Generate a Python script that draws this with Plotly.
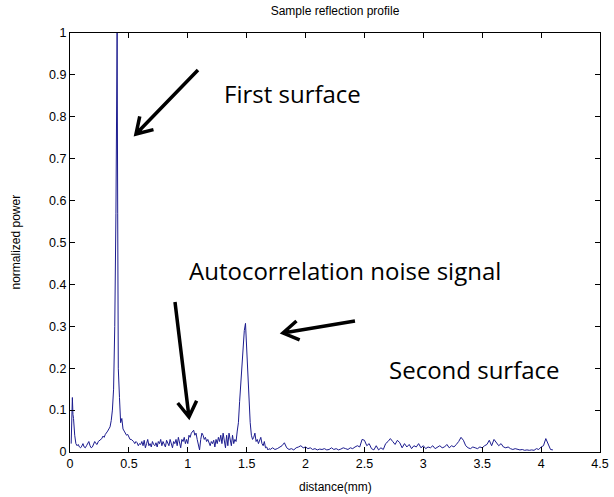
import math
import plotly.graph_objects as go

# Reflection profile: distance (mm) vs normalized power
distance_mm = [
    0.01, 0.02, 0.025, 0.03, 0.04, 0.05, 0.06, 0.07, 0.08, 0.09,
    0.10, 0.11, 0.12, 0.13, 0.14, 0.15, 0.16, 0.17, 0.18, 0.19,
    0.20, 0.21, 0.22, 0.23, 0.24, 0.25, 0.26, 0.27, 0.28, 0.29,
    0.30, 0.31, 0.32, 0.33, 0.34, 0.35, 0.36, 0.37, 0.38, 0.39,
    0.395, 0.40, 0.405, 0.41, 0.42, 0.43, 0.44, 0.45, 0.46, 0.47,
    0.48, 0.49, 0.50, 0.51, 0.52, 0.53, 0.54, 0.55, 0.56, 0.57,
    0.58, 0.59, 0.60, 0.61, 0.62, 0.63, 0.64, 0.65, 0.66, 0.67,
    0.68, 0.69, 0.70, 0.71, 0.72, 0.73, 0.74, 0.75, 0.76, 0.77,
    0.78, 0.79, 0.80, 0.81, 0.82, 0.83, 0.84, 0.85, 0.86, 0.87,
    0.88, 0.89, 0.90, 0.91, 0.92, 0.93, 0.94, 0.95, 0.96, 0.97,
    0.98, 0.99, 1.00, 1.01, 1.02, 1.03, 1.04, 1.05, 1.06, 1.07,
    1.08, 1.09, 1.10, 1.11, 1.12, 1.13, 1.14, 1.15, 1.16, 1.17,
    1.18, 1.19, 1.20, 1.21, 1.22, 1.23, 1.24, 1.25, 1.26, 1.27,
    1.28, 1.29, 1.30, 1.31, 1.32, 1.33, 1.34, 1.35, 1.36, 1.37,
    1.38, 1.39, 1.40, 1.41, 1.42, 1.43, 1.44, 1.45, 1.46, 1.47,
    1.48, 1.49, 1.50, 1.51, 1.52, 1.53, 1.54, 1.55, 1.56, 1.57,
    1.58, 1.59, 1.60, 1.61, 1.62, 1.63, 1.64, 1.65, 1.66, 1.67,
    1.68, 1.69, 1.70, 1.72, 1.74, 1.76, 1.78, 1.80, 1.82, 1.84,
    1.86, 1.88, 1.90, 1.92, 1.94, 1.96, 1.98, 2.00, 2.02, 2.04,
    2.06, 2.08, 2.10, 2.12, 2.14, 2.16, 2.18, 2.20, 2.22, 2.24,
    2.26, 2.28, 2.30, 2.32, 2.34, 2.36, 2.38, 2.40, 2.42, 2.44,
    2.46, 2.48, 2.50, 2.52, 2.54, 2.56, 2.58, 2.60, 2.62, 2.64,
    2.66, 2.68, 2.70, 2.72, 2.74, 2.76, 2.78, 2.80, 2.82, 2.84,
    2.86, 2.88, 2.90, 2.92, 2.94, 2.96, 2.98, 3.00, 3.02, 3.04,
    3.06, 3.08, 3.10, 3.12, 3.14, 3.16, 3.18, 3.20, 3.22, 3.24,
    3.26, 3.28, 3.30, 3.32, 3.34, 3.36, 3.38, 3.40, 3.42, 3.44,
    3.46, 3.48, 3.50, 3.52, 3.54, 3.56, 3.58, 3.60, 3.62, 3.64,
    3.66, 3.68, 3.70, 3.72, 3.74, 3.76, 3.78, 3.80, 3.82, 3.84,
    3.86, 3.88, 3.90, 3.92, 3.94, 3.96, 3.98, 4.00, 4.02, 4.04,
    4.06, 4.08, 4.10,
]

normalized_power = [
    0.02, 0.13, 0.09, 0.08, 0.04, 0.02, 0.015, 0.018, 0.012, 0.01,
    0.014, 0.02, 0.012, 0.01, 0.015, 0.022, 0.025, 0.015, 0.01, 0.012,
    0.02, 0.025, 0.02, 0.018, 0.025, 0.028, 0.03, 0.032, 0.038, 0.035,
    0.042, 0.045, 0.05, 0.055, 0.06, 0.075, 0.10, 0.15, 0.30, 0.57,
    0.92, 1.0, 0.57, 0.20, 0.13, 0.07, 0.08, 0.055, 0.05, 0.045,
    0.04, 0.042, 0.035, 0.03, 0.03, 0.028, 0.025, 0.02, 0.025, 0.022,
    0.015, 0.02, 0.018, 0.025, 0.015, 0.028, 0.01, 0.02, 0.03, 0.015,
    0.02, 0.012, 0.025, 0.018, 0.015, 0.022, 0.012, 0.025, 0.02, 0.03,
    0.015, 0.025, 0.02, 0.012, 0.028, 0.02, 0.015, 0.03, 0.022, 0.01,
    0.025, 0.02, 0.03, 0.015, 0.035, 0.02, 0.01, 0.03, 0.025, 0.035,
    0.02, 0.03, 0.02, 0.04, 0.035, 0.045, 0.048, 0.052, 0.04, 0.045,
    0.03, 0.02, 0.005, 0.03, 0.045, 0.04, 0.03, 0.035, 0.025, 0.03,
    0.02, 0.015, 0.025, 0.02, 0.028, 0.012, 0.03, 0.02, 0.035, 0.025,
    0.04, 0.02, 0.045, 0.03, 0.01, 0.04, 0.015, 0.045, 0.03, 0.015,
    0.04, 0.02, 0.03, 0.025, 0.05, 0.07, 0.12, 0.17, 0.22, 0.26,
    0.29, 0.307, 0.25, 0.17, 0.12, 0.07, 0.04, 0.03, 0.035, 0.045,
    0.025, 0.03, 0.02, 0.03, 0.035, 0.02, 0.015, 0.025, 0.01, 0.012,
    0.005, 0.008, 0.006, 0.01, 0.006, 0.008, 0.012, 0.015, 0.022, 0.01,
    0.006, 0.008, 0.005, 0.01, 0.012, 0.015, 0.01, 0.012, 0.008, 0.01,
    0.006, 0.008, 0.005, 0.007, 0.006, 0.008, 0.005, 0.006, 0.01, 0.006,
    0.008, 0.005, 0.007, 0.01, 0.008, 0.006, 0.01, 0.008, 0.012, 0.015,
    0.012, 0.03, 0.028, 0.015, 0.02, 0.008, 0.005, 0.015, 0.005, 0.01,
    0.006, 0.02, 0.025, 0.032, 0.025, 0.018, 0.028, 0.022, 0.01, 0.02,
    0.012, 0.018, 0.008, 0.015, 0.012, 0.02, 0.01, 0.015, 0.008, 0.012,
    0.01, 0.015, 0.008, 0.012, 0.015, 0.01, 0.012, 0.018, 0.01, 0.015,
    0.012, 0.018, 0.025, 0.035, 0.028, 0.015, 0.01, 0.008, 0.012, 0.01,
    0.008, 0.012, 0.01, 0.015, 0.018, 0.028, 0.015, 0.03, 0.022, 0.015,
    0.02, 0.012, 0.01, 0.012, 0.008, 0.006, 0.008, 0.006, 0.005, 0.006,
    0.004, 0.005, 0.004, 0.005, 0.004, 0.008, 0.006, 0.012, 0.015, 0.032,
    0.02, 0.006, 0.005,
]

x_ticks = [0, 0.5, 1, 1.5, 2, 2.5, 3, 3.5, 4, 4.5]
y_ticks = [0, 0.1, 0.2, 0.3, 0.4, 0.5, 0.6, 0.7, 0.8, 0.9, 1]

W, H = 614, 497
ML, MR, MT, MB = 70, 14, 33, 45
PW, PH = W - ML - MR, H - MT - MB


def to_paper(px, py):
    return (px - ML) / PW, (H - MB - py) / PH


def arrow_path(tail, tip, head_len=18, spread=32):
    """Straight arrow with an open V head, in paper units."""
    dx, dy = tail[0] - tip[0], tail[1] - tip[1]
    ang = math.atan2(dy, dx)
    pts = []
    for s in (-1, 1):
        a = ang + s * math.radians(spread)
        pts.append((tip[0] + head_len * math.cos(a), tip[1] + head_len * math.sin(a)))
    t0 = to_paper(*tail)
    t1 = to_paper(*tip)
    h1 = to_paper(*pts[0])
    h2 = to_paper(*pts[1])
    return (f"M {t0[0]:.4f} {t0[1]:.4f} L {t1[0]:.4f} {t1[1]:.4f} "
            f"M {h1[0]:.4f} {h1[1]:.4f} L {t1[0]:.4f} {t1[1]:.4f} L {h2[0]:.4f} {h2[1]:.4f}")


fig = go.Figure()
fig.add_trace(go.Scatter(
    x=distance_mm, y=normalized_power, mode="lines",
    line=dict(color="#1c1c8f", width=1), hoverinfo="skip", showlegend=False,
))

arrows = [
    ((198, 70), (136, 134)),
    ((175, 302), (189, 417)),
    ((355, 321), (283, 333)),
]
shapes = []
for tail, tip in arrows:
    shapes.append(dict(type="path", xref="paper", yref="paper",
                       path=arrow_path(tail, tip),
                       line=dict(color="black", width=3.5)))

label_font = dict(family="Open Sans", size=24, color="black")
labels = [
    ("First surface", 292, 93),
    ("Autocorrelation noise signal", 345, 270),
    ("Second surface", 474, 369),
]
annotations = []
for text, cx, cy in labels:
    px, py = to_paper(cx, cy)
    annotations.append(dict(text=text, x=px, y=py, xref="paper", yref="paper",
                            showarrow=False, font=label_font,
                            xanchor="center", yanchor="middle"))

# Axis titles placed as paper annotations so the plot area stays fixed
axis_title_font = dict(family="Liberation Sans", size=12, color="black")
annotations.append(dict(text="distance(mm)", x=0.5, y=(H - MB - 487) / PH,
                        xref="paper", yref="paper", showarrow=False,
                        font=axis_title_font, xanchor="center", yanchor="middle"))
annotations.append(dict(text="normalized power", x=(15 - ML) / PW, y=0.5,
                        xref="paper", yref="paper", showarrow=False, textangle=-90,
                        font=axis_title_font, xanchor="center", yanchor="middle"))

small_font = dict(family="Liberation Sans", size=12.5, color="black")
axis_common = dict(
    showline=True, mirror="ticks", linecolor="black", linewidth=1,
    ticks="inside", ticklen=5, tickcolor="black", showgrid=False, zeroline=False,
    tickfont=small_font, automargin=False,
)

fig.update_layout(
    width=W, height=H,
    margin=dict(l=ML, r=MR, t=MT, b=MB),
    paper_bgcolor="white", plot_bgcolor="white",
    title=dict(text="Sample reflection profile", x=(ML + PW / 2) / W, xanchor="center",
               y=1 - 11 / H, yanchor="middle",
               font=dict(family="Liberation Sans", size=12, color="black")),
    xaxis=dict(range=[0, 4.5], tickvals=x_ticks, **axis_common),
    yaxis=dict(range=[0, 1], tickvals=y_ticks, **axis_common),
    shapes=shapes,
    annotations=annotations,
)

fig.write_html("out.html")
